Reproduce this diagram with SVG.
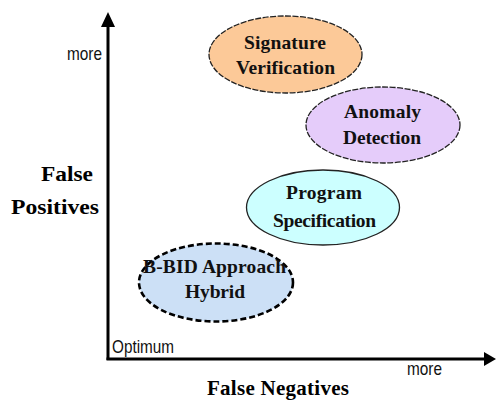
<svg xmlns="http://www.w3.org/2000/svg" width="496" height="401" viewBox="0 0 496 401">
<style>
.lbl{font-family:"Liberation Serif","Times New Roman",serif;font-weight:bold;font-size:19.5px;fill:#111;text-anchor:middle}
.ax{font-family:"Liberation Serif","Times New Roman",serif;font-weight:bold;font-size:21px;fill:#000}
.sm{font-family:"Liberation Sans",Arial,sans-serif;font-size:15px;fill:#111}
.thin{stroke:#222;stroke-width:1.3}
</style>
<rect width="496" height="401" fill="#fff"/>
<g id="axes">
<line x1="108" y1="360" x2="108" y2="24" stroke="#000" stroke-width="3"/>
<polygon points="108,12 101,27 115,27" fill="#000"/>
<line x1="106.5" y1="359" x2="485" y2="359" stroke="#000" stroke-width="3"/>
<polygon points="496,359 484,352 484,366" fill="#000"/>
</g>
<g id="axis-labels">
<text class="ax" x="41" y="181" textLength="52" lengthAdjust="spacingAndGlyphs">False</text>
<text class="ax" x="11" y="214" textLength="88" lengthAdjust="spacingAndGlyphs">Positives</text>
<text class="ax" x="207" y="395" textLength="142" lengthAdjust="spacing">False Negatives</text>
<text class="sm" transform="translate(67,60) scale(1,1.2)" textLength="35" lengthAdjust="spacingAndGlyphs">more</text>
<text class="sm" transform="translate(407,375) scale(1,1.2)" textLength="35" lengthAdjust="spacingAndGlyphs">more</text>
<text class="sm" transform="translate(112,353) scale(1,1.2)" textLength="62" lengthAdjust="spacingAndGlyphs">Optimum</text>
</g>
<g id="signature">
<ellipse class="thin" cx="285.5" cy="54.5" rx="76.5" ry="38.5" fill="#FCC998" stroke-dasharray="6 1.5"/>
<text class="lbl" x="285" y="49" textLength="82" lengthAdjust="spacing">Signature</text>
<text class="lbl" x="285.5" y="74" textLength="99" lengthAdjust="spacing">Verification</text>
</g>
<g id="anomaly">
<ellipse class="thin" cx="383" cy="125" rx="77" ry="38" fill="#E5CCFA" stroke-dasharray="6 1.5"/>
<text class="lbl" x="382.5" y="118" textLength="77" lengthAdjust="spacing">Anomaly</text>
<text class="lbl" x="382" y="144" textLength="78" lengthAdjust="spacing">Detection</text>
</g>
<g id="program">
<ellipse class="thin" cx="323" cy="207.5" rx="76.5" ry="37.5" fill="#CCFFFF"/>
<text class="lbl" x="324" y="199" textLength="76" lengthAdjust="spacing">Program</text>
<text class="lbl" x="324.5" y="227" textLength="103" lengthAdjust="spacing">Specification</text>
</g>
<g id="bbid">
<ellipse cx="216" cy="282.5" rx="77" ry="39" fill="#CCE0F6" stroke="#000" stroke-width="2.6" stroke-dasharray="6 3"/>
<text class="lbl" x="214.5" y="273" textLength="143" lengthAdjust="spacing">B-BID Approach</text>
<text class="lbl" x="215" y="298" textLength="60" lengthAdjust="spacing">Hybrid</text>
</g>
</svg>
